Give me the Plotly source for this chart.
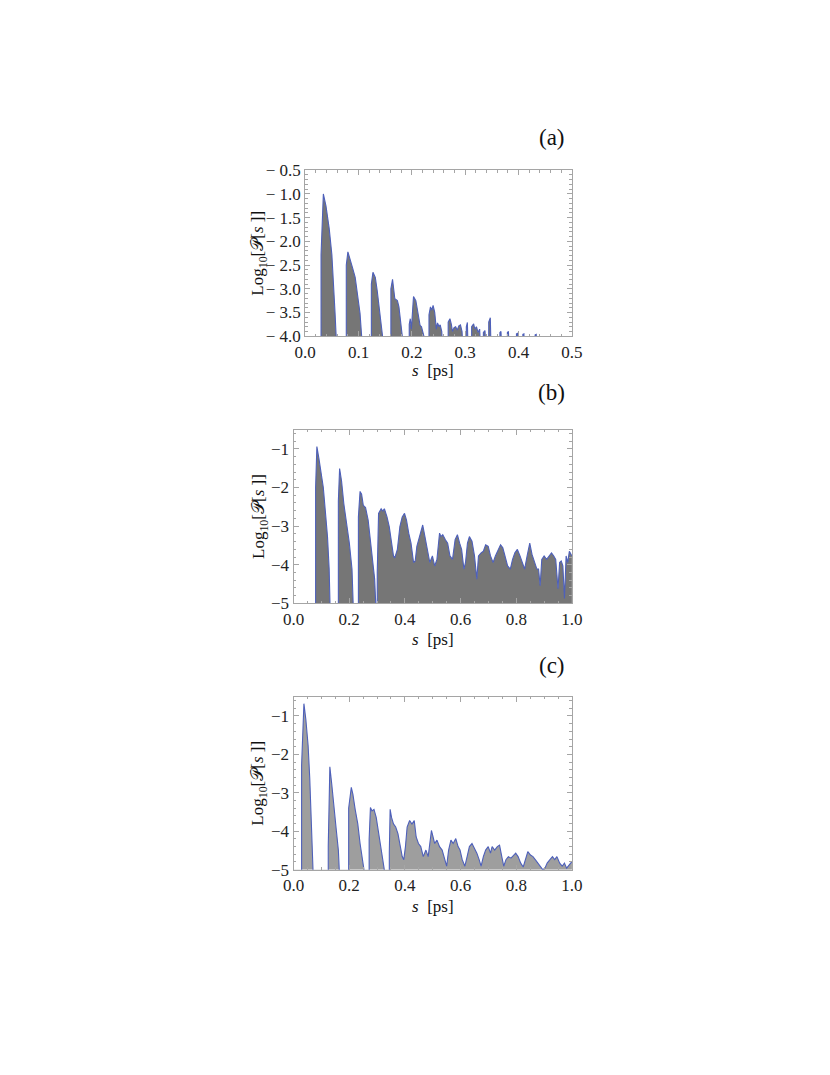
import plotly.graph_objects as go

# ---------------------------------------------------------------------------
# Data: s [ps] vs Log10 P[s]
# gaps between peaks are marked with values below the axis floor
# ---------------------------------------------------------------------------

s_a = [0.0, 0.0297, 0.0297, 0.034, 0.0389, 0.045, 0.050, 0.054, 0.056, 0.058, 0.059,
       0.077, 0.077, 0.080, 0.0845, 0.0888, 0.0937, 0.0985, 0.1028, 0.1058, 0.107,
       0.124, 0.124, 0.127, 0.1314, 0.135, 0.139, 0.1436, 0.145, 0.146,
       0.1606, 0.1606, 0.1637, 0.168, 0.1728, 0.1757, 0.180, 0.182, 0.183,
       0.195, 0.195, 0.197, 0.199, 0.201, 0.203, 0.2074, 0.211, 0.2153, 0.218, 0.2226, 0.224,
       0.232, 0.232, 0.2348, 0.2375, 0.2397, 0.2427, 0.2458, 0.248, 0.251, 0.253, 0.256, 0.258,
       0.268, 0.268, 0.2713, 0.274, 0.276, 0.279, 0.282, 0.285, 0.288, 0.291, 0.294, 0.297,
       0.302, 0.302, 0.304, 0.306,
       0.312, 0.312, 0.3157, 0.318, 0.321, 0.324, 0.327, 0.330,
       0.334, 0.334, 0.337, 0.340,
       0.344, 0.344, 0.347, 0.349,
       0.365, 0.365, 0.367, 0.369,
       0.379, 0.379, 0.381, 0.383,
       0.396, 0.396, 0.398, 0.401,
       0.408, 0.408, 0.410, 0.412,
       0.431, 0.431, 0.433, 0.435, 0.5]
logp_a = [-4.6, -4.6, -2.28, -1.0, -1.25, -1.73, -2.28, -2.96, -3.52, -4.0, -4.6,
          -4.6, -2.5, -2.22, -2.42, -2.56, -2.76, -3.11, -3.52, -4.0, -4.6,
          -4.6, -2.9, -2.65, -2.76, -3.04, -3.45, -3.8, -4.0, -4.6,
          -4.6, -3.0, -2.8, -3.21, -3.25, -3.38, -3.73, -4.0, -4.6,
          -4.6, -3.75, -3.63, -3.85, -3.5, -3.16, -3.25, -3.52, -3.77, -3.8, -4.0, -4.6,
          -4.6, -3.55, -3.38, -3.45, -3.35, -3.49, -3.85, -3.72, -3.8, -3.76, -3.9, -4.6,
          -4.6, -3.7, -3.63, -3.75, -3.9, -3.82, -3.8, -3.87, -3.78, -3.76, -3.9, -4.6,
          -4.6, -3.8, -3.71, -4.6,
          -4.6, -3.8, -3.74, -3.85, -3.8, -3.92, -3.85, -4.6,
          -4.6, -3.92, -3.88, -4.6,
          -4.6, -3.7, -3.61, -4.6,
          -4.6, -3.92, -3.9, -4.6,
          -4.6, -3.92, -3.9, -4.6,
          -4.6, -3.95, -3.94, -4.6,
          -4.6, -3.96, -3.95, -4.6,
          -4.6, -3.97, -3.96, -4.6, -4.6]

s_b = [0.0, 0.0793, 0.0793, 0.0839, 0.091, 0.099, 0.107, 0.114, 0.122, 0.128, 0.132, 0.133,
       0.161, 0.161, 0.1655, 0.1725, 0.1807, 0.192, 0.2005, 0.21, 0.2156, 0.217,
       0.233, 0.233, 0.239, 0.2445, 0.2506, 0.2587, 0.268, 0.277, 0.2855, 0.2914, 0.295, 0.296,
       0.3007, 0.3007, 0.3054, 0.3147, 0.3205, 0.3263, 0.3357, 0.3438, 0.352, 0.359, 0.3636,
       0.373, 0.382, 0.3904, 0.3986, 0.4056, 0.4138, 0.422, 0.4312, 0.437, 0.443, 0.4545,
       0.464, 0.472, 0.4802, 0.4895, 0.4988, 0.507, 0.515, 0.5245, 0.530, 0.536, 0.5455,
       0.5536, 0.5618, 0.571, 0.5804, 0.5886, 0.5967, 0.6037, 0.612, 0.6177, 0.6247, 0.6317,
       0.641, 0.650, 0.6585, 0.6643, 0.6737, 0.6818, 0.690, 0.6993, 0.7075, 0.7168, 0.725,
       0.7343, 0.7436, 0.7517, 0.760, 0.769, 0.7786, 0.7867, 0.795, 0.804, 0.8135, 0.8217,
       0.830, 0.839, 0.8485, 0.8566, 0.8648, 0.874, 0.880, 0.8858, 0.8916, 0.900, 0.909,
       0.918, 0.9266, 0.9347, 0.9417, 0.950, 0.9557, 0.9615, 0.9674, 0.9732, 0.979, 0.9848,
       0.9907, 1.0]
logp_b = [-5.6, -5.6, -2.0, -0.94, -1.24, -1.58, -2.0, -2.59, -3.27, -4.11, -4.96, -5.6,
          -5.6, -2.34, -1.51, -1.83, -2.42, -3.01, -3.44, -4.11, -4.96, -5.6,
          -5.6, -2.76, -2.10, -2.17, -2.46, -2.52, -2.84, -3.44, -3.86, -4.37, -4.96, -5.6,
          -5.6, -4.2, -2.67, -2.55, -2.61, -2.55, -2.76, -3.01, -3.44, -3.77, -3.82,
          -3.6, -3.01, -2.76, -2.67, -2.84, -3.18, -3.44, -3.94, -3.9, -3.52, -3.18,
          -2.97, -3.27, -3.6, -3.94, -3.77, -4.03, -3.86, -3.18, -3.27, -3.22, -3.35,
          -3.44, -3.77, -3.86, -3.35, -3.22, -3.44, -3.6, -4.11, -3.94, -3.44, -3.27,
          -3.39, -3.77, -4.37, -3.77, -3.69, -3.65, -3.48, -3.52, -3.77, -3.94, -3.77,
          -3.6, -3.48, -3.56, -3.77, -4.03, -4.11, -3.86, -3.69, -3.6, -3.77, -3.94,
          -4.11, -3.77, -3.44, -3.73, -3.94, -4.11, -4.11, -4.54, -3.86, -3.77, -3.86,
          -3.77, -3.69, -3.77, -3.86, -4.62, -3.94, -3.9, -4.03, -4.87, -3.77, -3.94,
          -3.65, -3.77]

s_c = [0.0, 0.029, 0.029, 0.0373, 0.0443, 0.0524, 0.0583, 0.064, 0.070, 0.071,
       0.1247, 0.1247, 0.1305, 0.1375, 0.1457, 0.1538, 0.161, 0.1667, 0.168,
       0.198, 0.198, 0.2075, 0.2133, 0.2214, 0.2308, 0.239, 0.247, 0.253, 0.254,
       0.2716, 0.2716, 0.2762, 0.282, 0.289, 0.297, 0.305, 0.3124, 0.3205, 0.326, 0.327,
       0.344, 0.344, 0.347, 0.352, 0.359, 0.367, 0.375, 0.3846, 0.3904, 0.396, 0.402,
       0.408, 0.417, 0.4254, 0.4336, 0.4405, 0.4487, 0.457, 0.466, 0.4755, 0.4837, 0.4895,
       0.4953, 0.5012, 0.507, 0.5152, 0.5245, 0.5338, 0.542, 0.550, 0.557, 0.5653, 0.5734,
       0.5828, 0.591, 0.598, 0.606, 0.6154, 0.6235, 0.6317, 0.641, 0.650, 0.6585, 0.6667,
       0.6737, 0.6818, 0.690, 0.6993, 0.7075, 0.7133, 0.7226, 0.732, 0.740, 0.748, 0.755,
       0.763, 0.7716, 0.781, 0.790, 0.798, 0.8065, 0.816, 0.825, 0.8333, 0.8415, 0.851,
       0.860, 0.8683, 0.8765, 0.8858, 0.895, 0.903, 0.911, 0.921, 0.930, 0.938, 0.946,
       0.956, 0.965, 0.973, 0.981, 0.991, 1.0]
logp_c = [-5.6, -5.6, -2.28, -0.68, -1.09, -1.77, -2.62, -3.64, -5.0, -5.6,
          -5.6, -4.4, -2.32, -2.79, -3.47, -3.98, -4.49, -5.0, -5.6,
          -5.6, -3.4, -2.86, -3.04, -3.43, -3.81, -4.32, -4.74, -5.0, -5.6,
          -5.6, -4.2, -3.38, -3.47, -3.43, -3.64, -3.98, -4.32, -4.74, -5.0, -5.6,
          -5.6, -4.55, -3.43, -3.64, -3.81, -3.89, -4.06, -4.49, -4.66, -4.74, -4.4,
          -3.89, -3.72, -3.81, -3.72, -4.15, -4.32, -4.4, -4.66, -4.49, -4.66, -4.32,
          -3.98, -4.15, -4.32, -4.23, -4.4, -4.49, -4.74, -4.91, -4.49, -4.23, -4.32,
          -4.19, -4.4, -4.49, -4.74, -4.91, -4.66, -4.4, -4.32, -4.45, -4.57, -4.74,
          -4.91, -4.66, -4.49, -4.4, -4.57, -4.4, -4.49, -4.4, -4.36, -4.66, -4.91,
          -4.74, -4.66, -4.7, -4.62, -4.57, -4.66, -4.83, -4.93, -4.74, -4.53, -4.62,
          -4.66, -4.74, -4.83, -4.93, -5.0, -4.96, -4.83, -4.74, -4.66, -4.74, -4.66,
          -4.83, -4.91, -4.83, -4.96, -4.87, -4.79]

panel_labels = ["(a)", "(b)", "(c)"]
x_max = [0.5, 1.0, 1.0]
y_range = [(-4.0, -0.5), (-5.0, -0.5), (-5.0, -0.5)]
y_ticks_a = [-4.0, -3.5, -3.0, -2.5, -2.0, -1.5, -1.0, -0.5]
y_ticks_bc = [-5, -4, -3, -2, -1]

# ---------------------------------------------------------------------------
# Layout geometry (window pixels; the page body adds an 8 px margin)
# ---------------------------------------------------------------------------
W, H = 830, 1075
OFF = 8
frames = [  # (left, right, top, bottom) in window pixels
    (302, 576, 164, 333),
    (290, 576, 428, 605),
    (290, 576, 700, 876),
]
tag_y = [131, 390, 668]
xtitle_y = [368, 642, 914]
fills = ["rgb(118,118,118)", "rgb(118,118,118)", "rgb(158,158,158)"]
LINE = "rgb(78,96,186)"
FRAME = "rgb(165,165,165)"
SERIF = "Liberation Serif, Times New Roman, Times, serif"


def px(x):
    return (x - OFF) / W


def py(y):
    return 1 - (y - OFF) / H


fig = go.Figure()
series = [(s_a, logp_a), (s_b, logp_b), (s_c, logp_c)]

for n, ((xs, ys), (l, r, t, b)) in enumerate(zip(series, frames), start=1):
    xa = "x" if n == 1 else f"x{n}"
    ya = "y" if n == 1 else f"y{n}"
    ymin, ymax = y_range[n - 1]
    # baseline to fill against (Filling -> Bottom)
    fig.add_trace(go.Scatter(x=[0, x_max[n - 1]], y=[ymin, ymin], mode="lines",
                             line=dict(width=0), hoverinfo="skip",
                             showlegend=False, xaxis=xa, yaxis=ya))
    fig.add_trace(go.Scatter(x=xs, y=ys, mode="lines", fill="tonexty",
                             fillcolor=fills[n - 1],
                             line=dict(color=LINE, width=1.1),
                             showlegend=False, xaxis=xa, yaxis=ya))

    if n == 1:
        yt = dict(tickvals=y_ticks_a,
                  ticktext=[f"\u2212 {abs(v):.1f}" for v in y_ticks_a],
                  minor=dict(dtick=0.1, ticks="inside", ticklen=2.5, tickcolor=FRAME))
        xt = dict(dtick=0.1, tickformat=".1f",
                  minor=dict(dtick=0.02, ticks="inside", ticklen=2.5, tickcolor=FRAME))
    else:
        yt = dict(tickvals=y_ticks_bc,
                  ticktext=[f"\u2212{abs(v)}" for v in y_ticks_bc],
                  minor=dict(dtick=0.2, ticks="inside", ticklen=2.5, tickcolor=FRAME))
        xt = dict(dtick=0.2, tickformat=".1f",
                  minor=dict(dtick=0.05, ticks="inside", ticklen=2.5, tickcolor=FRAME))

    common = dict(showline=True, linecolor=FRAME, linewidth=1, mirror="allticks",
                  ticks="inside", ticklen=5, tickcolor=FRAME, showgrid=False,
                  zeroline=False, tickfont=dict(family=SERIF, size=17, color="#222"))
    fig.update_layout({
        f"xaxis{'' if n == 1 else n}": dict(domain=[px(l), px(r)], anchor=ya,
                                             range=[0, x_max[n - 1]], **xt, **common),
        f"yaxis{'' if n == 1 else n}": dict(domain=[py(b), py(t)], anchor=xa,
                                             range=[ymin, ymax], **yt, **common),
    })

    # panel tag, axis titles (anchors pinned so paper position means the centre)
    centred = dict(xref="paper", yref="paper", xanchor="center", yanchor="middle",
                   showarrow=False)
    fig.add_annotation(x=px(555), y=py(tag_y[n - 1]), text=panel_labels[n - 1],
                       font=dict(family=SERIF, size=23, color="#111"), **centred)
    fig.add_annotation(x=px(433), y=py(xtitle_y[n - 1]), text="<i>s</i>  [ps]",
                       font=dict(family=SERIF, size=17, color="#111"), **centred)
    fig.add_annotation(x=px(255), y=py((t + b) / 2),
                       text="Log<sub>10</sub>[\U0001D4AB[<i>s</i> ]]", textangle=-90,
                       font=dict(family=SERIF, size=17, color="#111"), **centred)

fig.update_layout(width=W, height=H, margin=dict(l=0, r=0, t=0, b=0),
                  plot_bgcolor="white", paper_bgcolor="white")

fig.write_html("out.html")
